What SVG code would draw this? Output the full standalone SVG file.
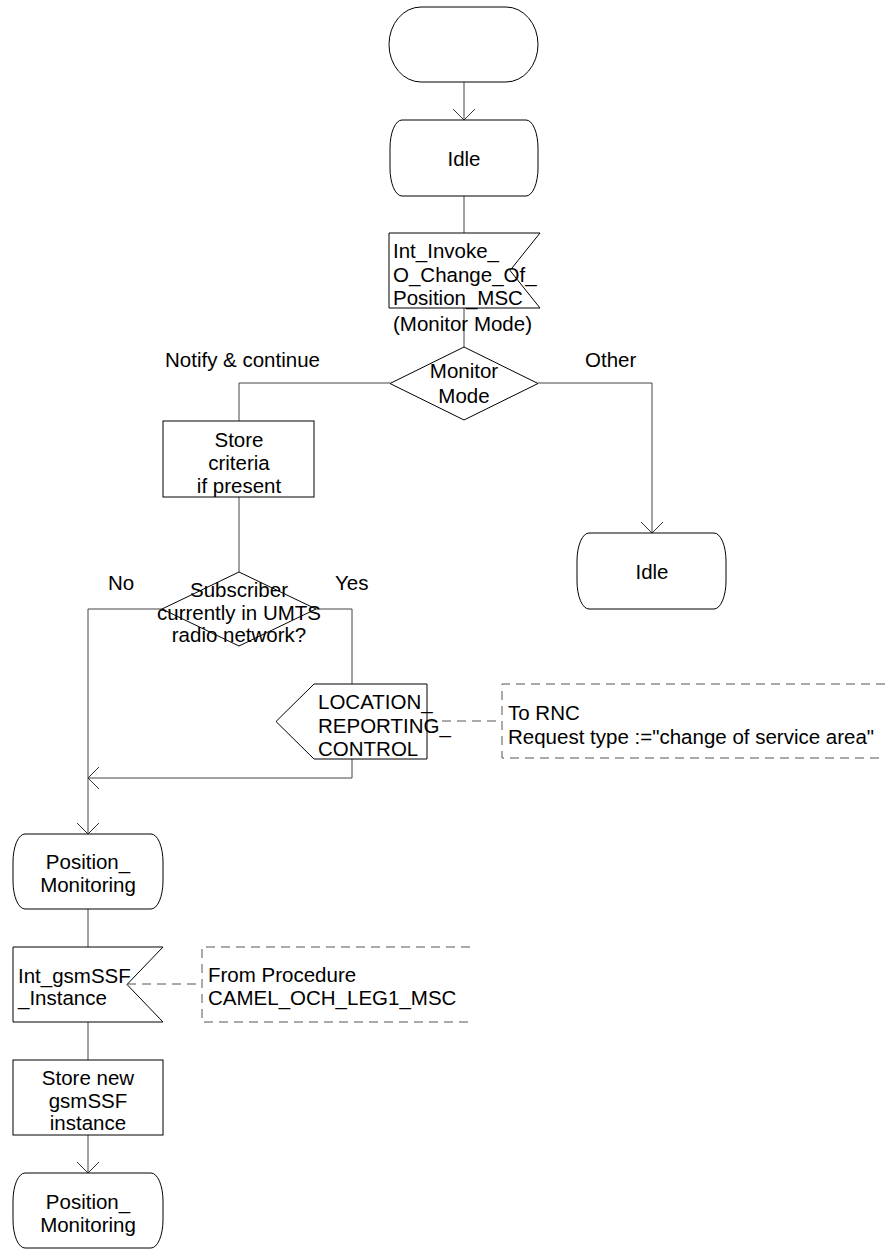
<svg xmlns="http://www.w3.org/2000/svg" width="885" height="1252" viewBox="0 0 885 1252">
<style>
.s{fill:#fff;stroke:#000;stroke-width:1}
.c{fill:none;stroke:#444;stroke-width:1}
.d{fill:none;stroke:#555;stroke-width:1;stroke-dasharray:9 6}
text{font-family:"Liberation Sans",Arial,sans-serif;font-size:20.5px;fill:#000}
.m{text-anchor:middle}
</style>
<defs>
<marker id="a" viewBox="-12 -12 24 24" refX="0" refY="0" markerWidth="24" markerHeight="24" markerUnits="userSpaceOnUse" orient="auto">
<path d="M-11,-11 L0,0 L-11,11" fill="none" stroke="#333" stroke-width="1"/>
</marker>
</defs>
<rect width="885" height="1252" fill="#fff"/>
<g id="connectors">
<path class="c" d="M464,82 V120" marker-end="url(#a)"/>
<path class="c" d="M464,196 V233"/>
<path class="c" d="M464,308 V347"/>
<path class="c" d="M390,383 H239 V421"/>
<path class="c" d="M538,383 H652 V533" marker-end="url(#a)"/>
<path class="c" d="M239,497 V572"/>
<path class="c" d="M163,609 H88 V834" marker-end="url(#a)"/>
<path class="c" d="M316,609 H352 V684"/>
<path class="c" d="M352,759 V778 H88" marker-end="url(#a)"/>
<path class="c" d="M88,909 V947"/>
<path class="c" d="M88,1022 V1060"/>
<path class="c" d="M88,1135 V1173" marker-end="url(#a)"/>
<path class="d" d="M427,721 H502"/>
<path class="d" d="M127,984 H202"/>
</g>
<g id="start">
<rect class="s" x="389" y="7" width="149" height="75" rx="32" ry="37.5"/>
</g>
<g id="idle1">
<path class="s" d="M402,120 H526 A12,28 0 0 1 538,148 V168 A12,28 0 0 1 526,196 H402 A12,28 0 0 1 390,168 V148 A12,28 0 0 1 402,120 Z"/>
<text class="m" x="464" y="165.5">Idle</text>
</g>
<g id="input1">
<path class="s" d="M389,233 H540 L510,270.5 L540,308 H389 Z"/>
<text x="393" y="258">Int_Invoke_</text>
<text x="393" y="281.5">O_Change_Of_</text>
<text x="393" y="305">Position_MSC</text>
<text x="393" y="331">(Monitor Mode)</text>
</g>
<g id="decision1">
<path class="s" d="M464,347 L538,383.5 L464,420 L390,383.5 Z"/>
<text class="m" x="464" y="378">Monitor</text>
<text class="m" x="464" y="403">Mode</text>
</g>
<g id="labels">
<text x="165" y="367">Notify &amp; continue</text>
<text x="585" y="367">Other</text>
<text x="108" y="590">No</text>
<text x="335" y="590">Yes</text>
</g>
<g id="task1">
<rect class="s" x="163" y="421" width="151" height="76"/>
<text class="m" x="239" y="446.5">Store</text>
<text class="m" x="239" y="470">criteria</text>
<text class="m" x="239" y="493">if present</text>
</g>
<g id="idle2">
<path class="s" d="M589,533 H714 A12,28 0 0 1 726,561 V581 A12,28 0 0 1 714,609 H589 A12,28 0 0 1 577,581 V561 A12,28 0 0 1 589,533 Z"/>
<text class="m" x="652" y="579">Idle</text>
</g>
<g id="decision2">
<path class="s" d="M239,572 L316,609 L239,646 L162,609 Z" fill="none"/>
<text class="m" x="239" y="597">Subscriber</text>
<text class="m" x="239" y="619.5">currently in UMTS</text>
<text class="m" x="239" y="642">radio network?</text>
</g>
<g id="output1">
<path class="s" d="M314,684 H427 V759 H314 L276,721.5 Z"/>
<text x="318" y="709">LOCATION_</text>
<text x="318" y="732.5">REPORTING_</text>
<text x="318" y="756">CONTROL</text>
</g>
<g id="comment1">
<path class="d" d="M885,684 H502 V758 H885"/>
<text x="508" y="720">To RNC</text>
<text x="508" y="743.5">Request type :="change of service area"</text>
</g>
<g id="state1">
<path class="s" d="M25,834 H151 A12,28 0 0 1 163,862 V881 A12,28 0 0 1 151,909 H25 A12,28 0 0 1 13,881 V862 A12,28 0 0 1 25,834 Z"/>
<text class="m" x="88" y="869">Position_</text>
<text class="m" x="88" y="892">Monitoring</text>
</g>
<g id="input2">
<path class="s" d="M13,947 H163 L127,984.5 L163,1022 H13 Z"/>
<text x="18" y="982.5">Int_gsmSSF</text>
<text x="18" y="1005">_Instance</text>
</g>
<g id="comment2">
<path class="d" d="M470,947 H202 V1022 H470"/>
<text x="208" y="981.5">From Procedure</text>
<text x="208" y="1005">CAMEL_OCH_LEG1_MSC</text>
</g>
<g id="task2">
<rect class="s" x="13" y="1060" width="150" height="75"/>
<text class="m" x="88" y="1085">Store new</text>
<text class="m" x="88" y="1108">gsmSSF</text>
<text class="m" x="88" y="1130">instance</text>
</g>
<g id="state2">
<path class="s" d="M25,1173 H151 A12,28 0 0 1 163,1201 V1220 A12,28 0 0 1 151,1248 H25 A12,28 0 0 1 13,1220 V1201 A12,28 0 0 1 25,1173 Z"/>
<text class="m" x="88" y="1208.5">Position_</text>
<text class="m" x="88" y="1231.5">Monitoring</text>
</g>
</svg>
